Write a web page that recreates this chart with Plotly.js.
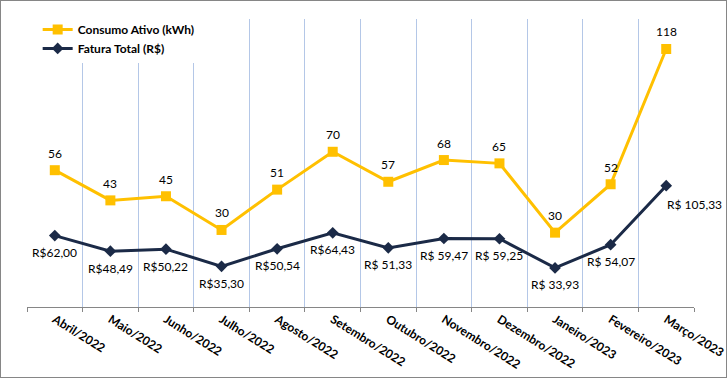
<!DOCTYPE html>
<html>
<head>
<meta charset="utf-8">
<script src="https://cdn.plot.ly/plotly-3.0.1.min.js"></script>
<style>
html,body{margin:0;padding:0;background:#fff;}
#wrap{position:relative;width:727px;height:378px;}
#chart{position:absolute;left:0;top:0;width:727px;height:378px;}
#frame{position:absolute;left:0;top:0;width:725px;height:376px;border:1px solid #868686;pointer-events:none;}
</style>
</head>
<body>
<div id="wrap"><div id="chart"></div><div id="frame"></div></div>
<script>
const months = ['Abril/2022','Maio/2022','Junho/2022','Julho/2022','Agosto/2022','Setembro/2022','Outubro/2022','Novembro/2022','Dezembro/2022','Janeiro/2023','Fevereiro/2023','Março/2023'];
// Plotted positions of the consumption line
const consumo = [59.4, 44.8, 46.8, 30.5, 50.0, 68.3, 53.8, 64.3, 62.7, 29.2, 52.6, 118];
const consumoLabels = ['56','43','45','30','51','70','57','68','65','30','52','118'];
const fatura = [62.00, 48.49, 50.22, 35.30, 50.54, 64.43, 51.33, 59.47, 59.25, 33.93, 54.07, 105.33];
const faturaLabels = ['R$62,00','R$48,49','R$50,22','R$35,30','R$50,54','R$64,43','R$ 51,33','R$ 59,47','R$ 59,25','R$ 33,93','R$ 54,07','R$ 105,33'];

const FONT = 'Lato, "Open Sans", sans-serif';
const YELLOW = '#FFC000';
const NAVY = '#1B2A47';

const traces = [
  {x: months, y: consumo, name: 'Consumo Ativo (kWh)', type: 'scatter', mode: 'lines+markers',
   yaxis: 'y2', line: {color: YELLOW, width: 3}, marker: {symbol: 'square', size: 10, color: YELLOW}},
  {x: months, y: fatura, name: 'Fatura Total (R$)', type: 'scatter', mode: 'lines+markers',
   yaxis: 'y', line: {color: NAVY, width: 3}, marker: {symbol: 'diamond', size: 9, color: NAVY}}
];

const annotations = [];
months.forEach((m, i) => {
  annotations.push({x: m, y: consumo[i], yref: 'y2', xref: 'x', text: consumoLabels[i], showarrow: false,
    xanchor: 'center', yanchor: 'middle', yshift: 17, font: {family: FONT, size: 12, color: '#000'}});
  const last = i === months.length - 1;
  annotations.push({x: m, y: fatura[i], yref: 'y', xref: 'x', text: faturaLabels[i], showarrow: false,
    xanchor: last ? 'left' : 'center', yanchor: 'middle', xshift: last ? -1 : 0, yshift: last ? -19 : -17,
    font: {family: FONT, size: 12, color: '#000'}});
});

const layout = {
  width: 727, height: 378,
  margin: {l: 27, r: 33, t: 19, b: 71},
  paper_bgcolor: '#fff', plot_bgcolor: '#fff',
  font: {family: FONT, color: '#000'},
  showlegend: true,
  legend: {x: 0.016, y: 1.014, xanchor: 'left', yanchor: 'top', bgcolor: '#fff',
           font: {family: FONT, size: 12, color: '#000', weight: 'bold'}, tracegroupgap: 0},
  xaxis: {type: 'category', tickson: 'boundaries', range: [-0.5, 11.5], showgrid: true, gridcolor: '#B4C7E7', gridwidth: 1,
          showline: true, linecolor: '#868686', linewidth: 1, ticks: 'outside', ticklen: 4, tickcolor: '#868686',
          tickangle: 32, tickfont: {family: FONT, size: 12, color: '#000', weight: 'bold'}, fixedrange: true, zeroline: false},
  yaxis: {range: [0, 250], visible: false, showgrid: false, zeroline: false},
  yaxis2: {range: [-6.75, 132.5], overlaying: 'y', side: 'right', visible: false, showgrid: false, zeroline: false},
  annotations: annotations
};

Plotly.newPlot('chart', traces, layout, {displayModeBar: false, staticPlot: true});
</script>
</body>
</html>
